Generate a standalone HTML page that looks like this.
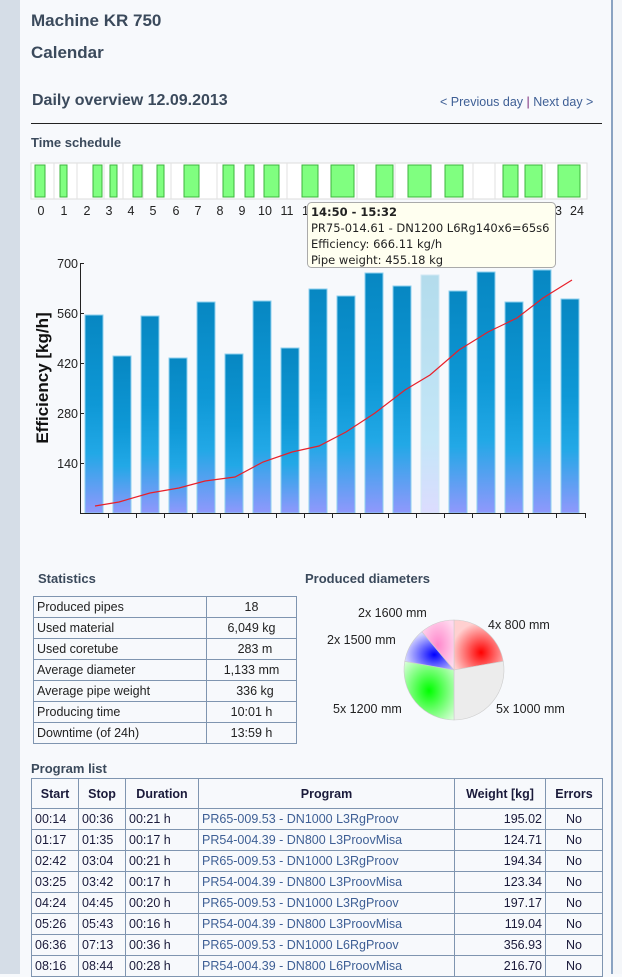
<!DOCTYPE html>
<html><head><meta charset="utf-8"><style>
*{margin:0;padding:0;box-sizing:border-box}
body{width:622px;height:974px;overflow:hidden;background:#f7f9fc;font-family:"Liberation Sans",sans-serif;position:relative;color:#222}
.a{position:absolute}
.lstrip{left:0;top:0;width:20px;height:974px;background:#d5dde7}
.rb{left:611px;top:0;width:2px;height:974px;background:#8aa3c2}
.rbg{left:613px;top:0;width:9px;height:974px;background:#f4f6f9}
h{position:absolute;font-weight:bold;color:#3b4a5c;white-space:nowrap}
table{border-collapse:collapse;position:absolute;font-size:12.5px}
td,th{border:1px solid #7f95b0;padding:0 3px;white-space:nowrap}
</style></head><body>
<div class="a lstrip"></div><div class="a rb"></div><div class="a rbg"></div>
<h style="left:31px;top:11px;font-size:17px">Machine KR 750</h>
<h style="left:31px;top:43px;font-size:17px">Calendar</h>
<h style="left:32px;top:92px;font-size:16px">Daily overview 12.09.2013</h>
<div class="a" style="left:440px;top:95px;font-size:12.5px;color:#3e5f95;white-space:nowrap">&lt; Previous day <span style="color:#7a2a7a">|</span> Next day &gt;</div>
<div class="a" style="left:31px;top:123px;width:571px;height:1px;background:#222"></div>
<h style="left:31px;top:135px;font-size:13px">Time schedule</h>
<svg class="a" style="left:0;top:0" width="622" height="540">
<rect x="31" y="163" width="556" height="36" fill="#fff" stroke="#ddd"/>
<g stroke="#e2e2e2">
<line x1="54" y1="163" x2="54" y2="199"/><line x1="77" y1="163" x2="77" y2="199"/><line x1="104" y1="163" x2="104" y2="199"/><line x1="123" y1="163" x2="123" y2="199"/><line x1="143" y1="163" x2="143" y2="199"/><line x1="171" y1="163" x2="171" y2="199"/><line x1="217" y1="163" x2="217" y2="199"/><line x1="287" y1="163" x2="287" y2="199"/><line x1="357" y1="163" x2="357" y2="199"/><line x1="395" y1="163" x2="395" y2="199"/><line x1="473" y1="163" x2="473" y2="199"/><line x1="495" y1="163" x2="495" y2="199"/><line x1="545" y1="163" x2="545" y2="199"/>
</g>
<g fill="#80ff80" stroke="#3cb43c">
<rect x="35" y="165" width="10" height="32"/><rect x="60" y="165" width="7" height="32"/><rect x="93" y="165" width="9" height="32"/><rect x="110" y="165" width="7" height="32"/><rect x="133" y="165" width="9" height="32"/><rect x="157" y="165" width="7" height="32"/><rect x="184" y="165" width="15" height="32"/><rect x="223" y="165" width="11" height="32"/><rect x="245" y="165" width="9" height="32"/><rect x="264" y="165" width="15" height="32"/><rect x="302" y="165" width="16" height="32"/><rect x="331" y="165" width="23" height="32"/><rect x="376" y="165" width="17" height="32"/><rect x="408" y="165" width="23" height="32"/><rect x="445" y="165" width="18" height="32"/><rect x="503" y="165" width="15" height="32"/><rect x="525" y="165" width="17" height="32"/><rect x="558" y="165" width="22" height="32"/>
</g>
<g font-family="Liberation Sans" font-size="12.5" fill="#222" text-anchor="middle">
<text x="41" y="215">0</text><text x="64" y="215">1</text><text x="87" y="215">2</text><text x="109" y="215">3</text><text x="131" y="215">4</text><text x="153" y="215">5</text><text x="176" y="215">6</text><text x="198" y="215">7</text><text x="220" y="215">8</text><text x="242" y="215">9</text><text x="265" y="215">10</text><text x="287" y="215">11</text><text x="309" y="215">12</text><text x="555" y="215">23</text><text x="577" y="215">24</text>
</g>
<defs>
<linearGradient id="bg" x1="0" y1="0" x2="0" y2="1"><stop offset="0" stop-color="#0787c2"/><stop offset="0.45" stop-color="#0e98d6"/><stop offset="0.7" stop-color="#22a8e6"/><stop offset="1" stop-color="#9098fc"/></linearGradient>
<linearGradient id="hg" x1="0" y1="0" x2="0" y2="1"><stop offset="0" stop-color="#b3dcec"/><stop offset="0.7" stop-color="#c4e6f8"/><stop offset="1" stop-color="#dcdcfe"/></linearGradient>
</defs>
<g stroke="#8ed0ee" stroke-width="1">
<rect x="85" y="315" width="18" height="198" fill="url(#bg)"/>
<rect x="113" y="356" width="18" height="157" fill="url(#bg)"/>
<rect x="141" y="316" width="18" height="197" fill="url(#bg)"/>
<rect x="169" y="358" width="18" height="155" fill="url(#bg)"/>
<rect x="197" y="302" width="18" height="211" fill="url(#bg)"/>
<rect x="225" y="354" width="18" height="159" fill="url(#bg)"/>
<rect x="253" y="301" width="18" height="212" fill="url(#bg)"/>
<rect x="281" y="348" width="18" height="165" fill="url(#bg)"/>
<rect x="309" y="289" width="18" height="224" fill="url(#bg)"/>
<rect x="337" y="296" width="18" height="217" fill="url(#bg)"/>
<rect x="365" y="273" width="18" height="240" fill="url(#bg)"/>
<rect x="393" y="286" width="18" height="227" fill="url(#bg)"/>
<rect x="421" y="275" width="18" height="238" fill="url(#hg)" stroke="#d0e8f4"/>
<rect x="449" y="291" width="18" height="222" fill="url(#bg)"/>
<rect x="477" y="272" width="18" height="241" fill="url(#bg)"/>
<rect x="505" y="302" width="18" height="211" fill="url(#bg)"/>
<rect x="533" y="270" width="18" height="243" fill="url(#bg)"/>
<rect x="561" y="299" width="18" height="214" fill="url(#bg)"/>
</g>
<polyline fill="none" stroke="#e8202a" stroke-width="1.2" points="95,506 119,502 150,493 179,488 205,481 235,477 263,462 292,452 319,446 346,432 375,413 405,390 430,375 459,350 488,332 517,318 543,298 572,280"/>
<g stroke="#222" stroke-width="1">
<line x1="80.5" y1="263" x2="80.5" y2="513"/><line x1="80" y1="513.5" x2="586" y2="513.5"/>
<line x1="80" y1="263.5" x2="84" y2="263.5"/><line x1="80" y1="313.5" x2="84" y2="313.5"/><line x1="80" y1="363.5" x2="84" y2="363.5"/><line x1="80" y1="413.5" x2="84" y2="413.5"/><line x1="80" y1="463.5" x2="84" y2="463.5"/>
<path d="M108.5 513v5M136.5 513v5M164.5 513v5M192.5 513v5M220.5 513v5M248.5 513v5M276.5 513v5M304.5 513v5M332.5 513v5M360.5 513v5M388.5 513v5M416.5 513v5M444.5 513v5M472.5 513v5M500.5 513v5M528.5 513v5M556.5 513v5M585.5 513v5"/>
</g>
<g font-family="Liberation Sans" font-size="12.5" fill="#222" text-anchor="end">
<text x="78" y="268">700</text><text x="78" y="318">560</text><text x="78" y="368">420</text><text x="78" y="418">280</text><text x="78" y="468">140</text>
</g>
<text transform="translate(48,378) rotate(-90)" text-anchor="middle" font-family="Liberation Sans" font-weight="bold" font-size="17" fill="#111">Efficiency [kg/h]</text>
<rect x="307.5" y="202.5" width="248" height="65" rx="4" fill="#fffff0" stroke="#aaa"/>
<g font-family="DejaVu Sans" font-size="11.5" fill="#222">
<text x="311" y="216" font-weight="bold">14:50 - 15:32</text>
<text x="311" y="232">PR75-014.61 - DN1200 L6Rg140x6=65s6</text>
<text x="311" y="248">Efficiency: 666.11 kg/h</text>
<text x="311" y="264">Pipe weight: 455.18 kg</text>
</g>
</svg>
<h style="left:38px;top:571px;font-size:13px">Statistics</h>
<h style="left:305px;top:571px;font-size:13px">Produced diameters</h>
<table style="left:33px;top:596px;width:264px">
<tr style="height:21px"><td style="width:173px">Produced pipes</td><td style="text-align:center">18</td></tr>
<tr style="height:21px"><td>Used material</td><td style="text-align:center">6,049 kg</td></tr>
<tr style="height:21px"><td>Used coretube</td><td style="text-align:center">&nbsp; 283 m</td></tr>
<tr style="height:21px"><td>Average diameter</td><td style="text-align:center">1,133 mm</td></tr>
<tr style="height:21px"><td>Average pipe weight</td><td style="text-align:center">&nbsp; 336 kg</td></tr>
<tr style="height:21px"><td>Producing time</td><td style="text-align:center">10:01 h</td></tr>
<tr style="height:21px"><td>Downtime (of 24h)</td><td style="text-align:center">13:59 h</td></tr>
</table>
<svg class="a" style="left:300px;top:590px" width="300" height="160">
<defs>
<radialGradient id="pr" cx="0.55" cy="0.65" r="0.6"><stop offset="0" stop-color="#ff0000"/><stop offset="1" stop-color="#ffd0d0"/></radialGradient>
<radialGradient id="pg" cx="0.5" cy="0.5" r="0.7"><stop offset="0" stop-color="#00ff00"/><stop offset="1" stop-color="#e0ffe0"/></radialGradient>
<radialGradient id="pb" cx="0.6" cy="0.6" r="0.6"><stop offset="0" stop-color="#0000ff"/><stop offset="1" stop-color="#d8d8ff"/></radialGradient>
<radialGradient id="pp" cx="0.5" cy="0.5" r="0.6"><stop offset="0" stop-color="#ff88cc"/><stop offset="1" stop-color="#ffd8ee"/></radialGradient>
</defs>
<g stroke="#ccc" stroke-width="0.6" transform="translate(154,80)">
<path d="M0 0V-50A50 50 0 0 1 49.24 -8.68Z" fill="url(#pr)"/>
<path d="M0 0L49.24 -8.68A50 50 0 0 1 0 50Z" fill="#ececec"/>
<path d="M0 0V50A50 50 0 0 1 -49.24 -8.68Z" fill="url(#pg)"/>
<path d="M0 0L-49.24 -8.68A50 50 0 0 1 -32.14 -38.3Z" fill="url(#pb)"/>
<path d="M0 0L-32.14 -38.3A50 50 0 0 1 0 -50Z" fill="url(#pp)"/>
</g>
<g font-family="Liberation Sans" font-size="12.5" fill="#222">
<text x="188" y="39">4x 800 mm</text>
<text x="58" y="27">2x 1600 mm</text>
<text x="27" y="54">2x 1500 mm</text>
<text x="33" y="123">5x 1200 mm</text>
<text x="196" y="123">5x 1000 mm</text>
</g>
</svg>
<h style="left:31px;top:761px;font-size:13px">Program list</h>
<table style="left:31px;top:778px;width:572px;color:#1a1a3a">
<tr style="height:30px"><th style="width:47px">Start</th><th style="width:47px">Stop</th><th style="width:73px">Duration</th><th>Program</th><th style="width:91px">Weight [kg]</th><th style="width:57px">Errors</th></tr>
<tr style="height:21px"><td>00:14</td><td>00:36</td><td>00:21 h</td><td style="color:#3e5f95">PR65-009.53 - DN1000 L3RgProov</td><td style="text-align:right">195.02</td><td style="text-align:center">No</td></tr>
<tr style="height:21px"><td>01:17</td><td>01:35</td><td>00:17 h</td><td style="color:#3e5f95">PR54-004.39 - DN800 L3ProovMisa</td><td style="text-align:right">124.71</td><td style="text-align:center">No</td></tr>
<tr style="height:21px"><td>02:42</td><td>03:04</td><td>00:21 h</td><td style="color:#3e5f95">PR65-009.53 - DN1000 L3RgProov</td><td style="text-align:right">194.34</td><td style="text-align:center">No</td></tr>
<tr style="height:21px"><td>03:25</td><td>03:42</td><td>00:17 h</td><td style="color:#3e5f95">PR54-004.39 - DN800 L3ProovMisa</td><td style="text-align:right">123.34</td><td style="text-align:center">No</td></tr>
<tr style="height:21px"><td>04:24</td><td>04:45</td><td>00:20 h</td><td style="color:#3e5f95">PR65-009.53 - DN1000 L3RgProov</td><td style="text-align:right">197.17</td><td style="text-align:center">No</td></tr>
<tr style="height:21px"><td>05:26</td><td>05:43</td><td>00:16 h</td><td style="color:#3e5f95">PR54-004.39 - DN800 L3ProovMisa</td><td style="text-align:right">119.04</td><td style="text-align:center">No</td></tr>
<tr style="height:21px"><td>06:36</td><td>07:13</td><td>00:36 h</td><td style="color:#3e5f95">PR65-009.53 - DN1000 L6RgProov</td><td style="text-align:right">356.93</td><td style="text-align:center">No</td></tr>
<tr style="height:21px"><td>08:16</td><td>08:44</td><td>00:28 h</td><td style="color:#3e5f95">PR54-004.39 - DN800 L6ProovMisa</td><td style="text-align:right">216.70</td><td style="text-align:center">No</td></tr>
</table>
</body></html>
